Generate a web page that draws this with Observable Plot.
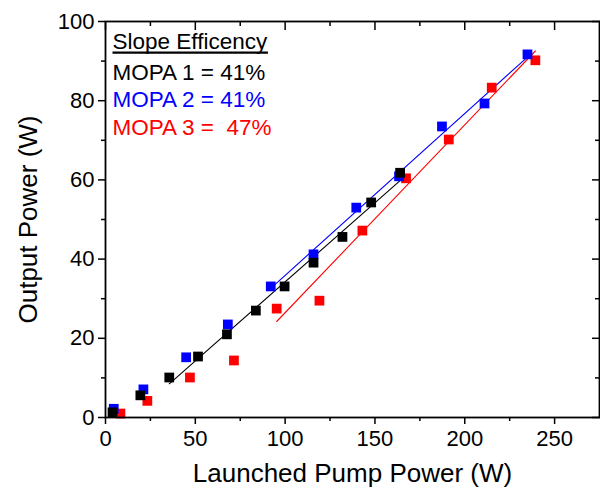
<!DOCTYPE html>
<html>
<head>
<meta charset="utf-8">
<script src="https://cdn.jsdelivr.net/npm/d3@7"></script>
<script src="https://cdn.jsdelivr.net/npm/@observablehq/plot@0.6"></script>
<style>
  html, body { margin: 0; padding: 0; background: #fff; }
  #chart { width: 600px; height: 490px; }
</style>
</head>
<body>
<div id="chart"></div>
<script>
// ---- data ----
const mopa1X = [3.9, 19.4, 35.5, 51.5, 67.6, 83.7, 99.7, 115.8, 131.9, 147.9, 164.0];
const mopa1Y = [1.3, 5.6, 10.1, 15.4, 21.0, 27.0, 33.1, 39.1, 45.6, 54.3, 61.8];
const mopa2X = [4.6, 21.1, 44.9, 68.1, 92.0, 115.8, 139.6, 163.4, 187.3, 211.0, 234.9];
const mopa2Y = [2.2, 7.1, 15.2, 23.5, 33.1, 41.2, 53.0, 60.9, 73.5, 79.3, 91.7];
const mopa3X = [8.3, 23.3, 47.0, 71.5, 95.3, 119.1, 143.0, 167.3, 191.1, 215.0, 239.3];
const mopa3Y = [1.0, 4.2, 10.1, 14.4, 27.5, 29.5, 47.2, 60.4, 70.2, 83.3, 90.2];
// fit ranges (first point index included in each linear fit)
const fitStart = [2, 4, 4];
const seriesNames = ["MOPA 1", "MOPA 2", "MOPA 3"];
const seriesColors = ["#000000", "#0000ff", "#ff0000"];
const legendTitle = "Slope Efficency";
const legendLines = ["MOPA 1 = 41%", "MOPA 2 = 41%", "MOPA 3 =  47%"];
const xTicks = [0, 50, 100, 150, 200, 250];
const xMinor = [25, 75, 125, 175, 225];
const yTicks = [0, 20, 40, 60, 80, 100];
const yMinor = [10, 30, 50, 70, 90];
const xLabel = "Launched Pump Power (W)";
const yLabel = "Output Power (W)";

const xs = [mopa1X, mopa2X, mopa3X];
const ys = [mopa1Y, mopa2Y, mopa3Y];
const series = seriesNames.map((name, s) =>
  xs[s].map((x, i) => ({series: name, x, y: ys[s][i], i}))
);

const FONT = "'Liberation Sans', Arial, Helvetica, sans-serif";
const blank = () => "";

const marks = [
  // fit lines
  ...series.map((d, s) => Plot.linearRegressionY(d.filter(p => p.i >= fitStart[s]), {
    x: "x", y: "y", stroke: seriesColors[s], strokeWidth: 1.1, ci: 0
  })),
  // points: red, blue, then black on top
  ...[2, 1, 0].map(s => Plot.dot(series[s], {
    x: "x", y: "y", symbol: "square", r: 5.5, fill: seriesColors[s], stroke: "none"
  })),
  // bottom axis
  Plot.axisX(xTicks, {anchor: "bottom", tickSize: 7, tickPadding: 6, fontSize: 22, label: null, strokeWidth: 1.5}),
  Plot.axisX(xMinor, {anchor: "bottom", tickSize: 4, tickFormat: blank, label: null, strokeWidth: 1.5}),
  // left axis
  Plot.axisY(yTicks, {anchor: "left", tickSize: 7, tickPadding: 4, fontSize: 22, label: null, strokeWidth: 1.5}),
  Plot.axisY(yMinor, {anchor: "left", tickSize: 4, tickFormat: blank, label: null, strokeWidth: 1.5}),
  // top / right inward ticks
  Plot.axisX(xTicks, {anchor: "top", tickSize: -8, tickFormat: blank, label: null, strokeWidth: 1.5}),
  Plot.axisX(xMinor, {anchor: "top", tickSize: -4, tickFormat: blank, label: null, strokeWidth: 1.5}),
  Plot.axisY(yTicks, {anchor: "right", tickSize: -8, tickFormat: blank, label: null, strokeWidth: 1.5}),
  Plot.axisY(yMinor, {anchor: "right", tickSize: -5, tickFormat: blank, label: null, strokeWidth: 1.5}),
  Plot.frame({stroke: "#000", strokeWidth: 1.8}),
  // axis titles
  Plot.text([xLabel], {frameAnchor: "bottom", dy: 56, text: d => d, fontSize: 26, textAnchor: "middle", lineAnchor: "middle", fill: "#000"}),
  Plot.text([yLabel], {frameAnchor: "left", dx: -77, text: d => d, fontSize: 26, rotate: -90, textAnchor: "middle", lineAnchor: "middle", fill: "#000"}),
  // legend
  Plot.text([legendTitle], {frameAnchor: "top-left", dx: 7, dy: 20, text: d => d, fontSize: 22.5, textAnchor: "start", lineAnchor: "middle", fill: "#000", className: "legend-title"}),
  ...legendLines.map((t, i) => Plot.text([t], {
    frameAnchor: "top-left", dx: 7, dy: 51 + i * 27.5, text: d => d, fontSize: 22.5,
    textAnchor: "start", lineAnchor: "middle", fill: seriesColors[i]
  }))
];

const chart = Plot.plot({
  width: 600,
  height: 490,
  marginLeft: 105,
  marginRight: 1,
  marginTop: 21,
  marginBottom: 73,
  style: {fontFamily: FONT, fontSize: "22px", color: "#000", background: "#fff", overflow: "visible"},
  x: {domain: [0, 275], axis: null},
  y: {domain: [0, 100], axis: null},
  marks
});
document.getElementById("chart").appendChild(chart);

// underline the legend heading
const title = chart.querySelector(".legend-title text");
if (title) {
  const r = title.getBoundingClientRect();
  const s = chart.getBoundingClientRect();
  const yLine = r.bottom - s.top - 1;
  d3.select(chart).append("line")
    .attr("x1", r.left - s.left).attr("x2", r.right - s.left)
    .attr("y1", yLine).attr("y2", yLine)
    .attr("stroke", "#000").attr("stroke-width", 2.2);
}
</script>
</body>
</html>
